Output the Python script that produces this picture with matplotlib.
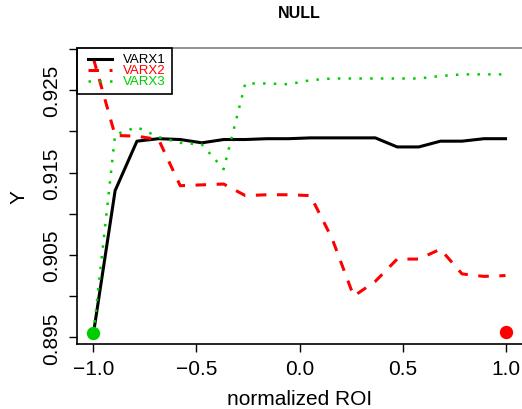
import numpy as np
import matplotlib
matplotlib.use("Agg")
import matplotlib.pyplot as plt
from matplotlib.patches import Rectangle

plt.rcParams['font.family'] = ['Liberation Sans', 'DejaVu Sans']

# 20 ROI positions between -1 and 1
roi = [-1.0, -0.895, -0.789, -0.684, -0.579, -0.474, -0.368, -0.263, -0.158, -0.053,
       0.053, 0.158, 0.263, 0.368, 0.474, 0.579, 0.684, 0.789, 0.895, 1.0]

varx1 = [0.8955, 0.9128, 0.9188, 0.9191, 0.9190, 0.9186, 0.9190, 0.9190, 0.9191, 0.9191,
         0.9192, 0.9192, 0.9192, 0.9192, 0.9181, 0.9181, 0.9188, 0.9188, 0.9191, 0.9191]
varx2 = [0.9288, 0.9195, 0.9194, 0.9190, 0.9134, 0.9135, 0.9136, 0.9122, 0.9123, 0.9123,
         0.9122, 0.9070, 0.9000, 0.9018, 0.9045, 0.9045, 0.9057, 0.9027, 0.9024, 0.9025]
varx3 = [0.8955, 0.9196, 0.9205, 0.9193, 0.9186, 0.9184, 0.9154, 0.9258, 0.9258, 0.9257,
         0.9262, 0.9264, 0.9264, 0.9264, 0.9264, 0.9264, 0.9267, 0.9269, 0.9269, 0.9269]

labels = ["VARX1", "VARX2", "VARX3"]
colors = ["black", "#FF0000", "#00CD00"]

# endpoint markers
start_pt = (-1.0, 0.8955)
end_pt = (1.0, 0.8956)

xticks = [-1.0, -0.5, 0.0, 0.5, 1.0]
yticks = [0.895, 0.900, 0.905, 0.910, 0.915, 0.920, 0.925, 0.930]
ytick_labels = ["0.895", "", "0.905", "", "0.915", "", "0.925", ""]

fig = plt.figure(figsize=(5.22, 4.10), dpi=100)
ax = fig.add_axes([77 / 522, 1 - 345 / 410, 445 / 522, 296 / 410])

styles = [
    dict(linestyle="-", lw=2.2),
    dict(linestyle=(0, (3.45, 3.45)), lw=2.2),
    dict(linestyle=(0, (1.0, 3.3)), lw=1.8),
]
series = [varx1, varx2, varx3]
for ys, c, st in zip(series, colors, styles):
    ax.plot(roi, ys, color=c, dash_capstyle="butt", solid_joinstyle="round", **st)

ax.plot([start_pt[0]], [start_pt[1]], "o", color="#00CD00", ms=9.6, mec="none", clip_on=False)
ax.plot([end_pt[0]], [end_pt[1]], "o", color="#FF0000", ms=9.6, mec="none", clip_on=False)

ax.set_xlim(-1.08, 1.08)
ax.set_ylim(0.8942, 0.9301)
ax.set_xticks(xticks)
ax.set_xticklabels(["\u22121.0", "\u22120.5", "0.0", "0.5", "1.0"])
ax.set_yticks(yticks)
ax.set_yticklabels(ytick_labels, rotation=90, va="center")
ax.tick_params(axis="both", direction="out", length=5.5, width=1, labelsize=15, colors="black")
ax.tick_params(axis="x", pad=5)
ax.tick_params(axis="y", pad=6)

for s in ["left", "bottom"]:
    ax.spines[s].set_linewidth(1.2)
ax.spines["top"].set_color("#808080")
ax.spines["top"].set_linewidth(1.2)
ax.spines["right"].set_visible(False)

ax.set_xlabel("normalized ROI", fontsize=15, labelpad=8.5)
ax.set_ylabel("Y", fontsize=15, labelpad=10)
fig.text(299.5 / 522, 1 - 13.5 / 410, "NULL", ha="center", va="center",
         fontsize=11.5, fontweight="bold")

# legend box in the top-left corner of the plot region
ax.add_patch(Rectangle((0, 0.8456), 0.2135, 1 - 0.8456, transform=ax.transAxes,
                       fill=False, edgecolor="black", lw=1.2, clip_on=False, zorder=5))
rows = [0.9628, 0.9257, 0.8885]
for lab, c, st, yy in zip(labels, colors, styles, rows):
    ax.plot([0.0247, 0.0787], [yy, yy], transform=ax.transAxes, color=c,
            dash_capstyle="butt", clip_on=False, zorder=6, **st)
    ax.text(0.1034, yy, lab, transform=ax.transAxes, color=c, fontsize=9.5,
            va="center", ha="left", zorder=6)

fig.savefig("out.png", dpi=100)
